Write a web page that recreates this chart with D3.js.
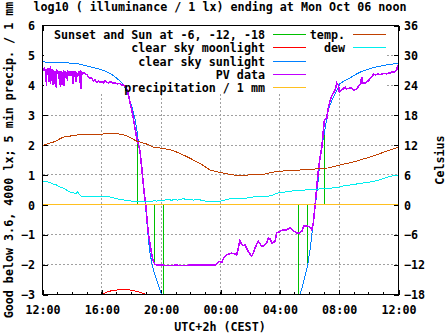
<!DOCTYPE html>
<html><head><meta charset="utf-8">
<script src="https://cdn.jsdelivr.net/npm/d3@7"></script>
<style>
body{margin:0;background:#fff;}
svg text{font-family:"DejaVu Sans Mono",monospace;font-weight:bold;font-size:11.7px;fill:#000;}
</style></head><body>
<svg id="chart" width="447" height="335"></svg>
<script>
const title = "log10 ( illuminance / 1 lx) ending at Mon Oct 06 noon";
const xLabel = "UTC+2h (CEST)";
const yLabel = "Good below 3.6, 4000 lx; 5 min precip. / 1 mm";
const y2Label = "Celsius";
const xTickHours = [0,4,8,12,16,20,24];
const xTickLabels = ["12:00","16:00","20:00","00:00","04:00","08:00","12:00"];
const xMinorHours = d3.range(0,25,1);
const yTicks = [-3,-2,-1,0,1,2,3,4,5,6];
const y2Ticks = [-18,-12,-6,0,6,12,18,24,30,36];

// hours after 12:00, log10 lux
const sunEvents = [[6.41,2.3],[7.55,-2.0],[8.16,-3.0],[17.26,-3.0],[17.87,-2.0],[19.01,2.5]];
const moonlight = [[3.7,-3.1],[3.98,-3.0],[4.5,-2.89],[5.0,-2.85],[5.4,-2.84],[5.8,-2.84],[6.2,-2.88],[6.6,-2.93],[7.0,-3.0],[7.3,-3.1]];
const sunEvening = [[0,4.78],[1.0,4.77],[1.5,4.76],[2.5,4.71],[3.2,4.62],[3.9,4.53],[4.3,4.46],[4.65,4.37],[5.0,4.24],[5.25,4.13],[5.44,4.02],[5.6,3.86],[5.78,3.65],[5.9,3.48],[6.0,3.33],[6.12,3.1],[6.23,2.9],[6.39,2.4],[6.57,1.72],[6.68,1.3],[6.79,0.83],[6.93,0.07],[7.02,-0.5],[7.12,-1.05],[7.24,-1.6],[7.42,-2.06],[7.55,-2.3],[7.69,-2.5],[7.85,-2.75],[8.02,-3.0],[8.3,-3.5]];
const sunMorning = [[17.1,-3.5],[17.36,-3.0],[17.59,-2.61],[17.86,-2.06],[18.04,-1.5],[18.26,-0.55],[18.4,0.0],[18.55,0.65],[18.71,1.5],[18.85,2.0],[19.0,2.4],[19.27,3.17],[19.45,3.42],[19.61,3.61],[19.8,3.8],[19.95,3.94],[20.06,4.06],[20.4,4.16],[20.74,4.25],[21.1,4.36],[21.41,4.44],[21.85,4.52],[22.3,4.59],[22.75,4.64],[23.2,4.68],[23.6,4.71],[24,4.73]];
const pvData = [[0.00,4.50],[0.04,4.56],[0.10,4.50],[0.15,4.55],[0.22,4.50],[0.27,3.98],[0.29,4.52],[0.38,4.55],[0.43,4.10],[0.45,4.53],[0.52,4.58],[0.55,4.05],[0.57,4.50],[0.65,4.52],[0.72,4.00],[0.74,4.50],[0.83,4.05],[0.85,4.48],[0.94,3.90],[0.96,4.50],[1.05,4.46],[1.10,4.20],[1.12,4.47],[1.21,3.95],[1.23,4.46],[1.33,4.00],[1.35,4.45],[1.44,3.98],[1.46,4.46],[1.55,4.44],[1.60,4.25],[1.62,4.45],[1.69,4.15],[1.71,4.46],[1.80,4.44],[1.85,4.30],[1.87,4.45],[1.97,4.46],[2.07,4.05],[2.09,4.45],[2.18,4.44],[2.25,4.10],[2.27,4.45],[2.40,4.30],[2.42,4.44],[2.50,4.45],[2.58,3.87],[2.60,4.44],[2.70,4.38],[2.74,4.42],[2.85,4.40],[3.00,4.35],[3.10,4.28],[3.20,4.22],[3.30,4.25],[3.42,4.15],[3.55,4.18],[3.65,4.10],[3.75,4.14],[3.85,4.10],[4.00,4.12],[4.10,4.08],[4.20,4.15],[4.32,4.10],[4.45,4.08],[4.60,4.12],[4.75,4.06],[4.90,4.08],[5.05,4.05],[5.20,4.06],[5.33,4.02],[5.45,4.00],[5.55,3.97],[5.67,3.90],[5.78,3.70],[5.89,3.44],[6.00,3.20],[6.11,2.94],[6.22,2.60],[6.34,2.28],[6.45,2.05],[6.57,1.80],[6.68,1.30],[6.79,0.72],[6.88,0.30],[6.97,-0.06],[7.05,-0.50],[7.13,-0.94],[7.25,-1.30],[7.35,-1.61],[7.45,-1.85],[7.58,-2.00],[8.00,-2.02],[8.5,-2.03],[9.0,-2.02],[9.5,-2.03],[10.0,-2.02],[10.5,-2.02],[11.0,-2.02],[11.4,-2.01],[11.63,-2.02],[11.74,-1.97],[11.85,-1.92],[11.97,-1.89],[12.08,-1.93],[12.25,-1.75],[12.42,-1.67],[12.6,-1.64],[12.75,-1.62],[12.87,-1.63],[13.09,-1.67],[13.2,-1.45],[13.31,-1.20],[13.43,-1.33],[13.55,-1.36],[13.65,-1.33],[13.76,-1.45],[13.88,-1.56],[14.0,-1.66],[14.1,-1.72],[14.22,-1.60],[14.33,-1.44],[14.45,-1.30],[14.55,-1.22],[14.66,-1.30],[14.78,-1.39],[14.9,-1.38],[15.0,-1.33],[15.12,-1.25],[15.23,-1.11],[15.35,-1.15],[15.45,-1.28],[15.57,-1.25],[15.68,-1.22],[15.75,-1.05],[15.79,-0.94],[15.9,-0.92],[16.01,-0.89],[16.12,-0.86],[16.24,-0.83],[16.35,-0.85],[16.46,-0.83],[16.58,-0.80],[16.69,-0.78],[16.8,-0.82],[16.91,-0.87],[17.03,-0.90],[17.14,-0.94],[17.25,-0.95],[17.36,-0.92],[17.48,-0.89],[17.59,-0.72],[17.7,-0.70],[17.81,-0.71],[17.93,-0.72],[18.04,-0.76],[18.15,-0.83],[18.26,-0.61],[18.32,-0.30],[18.38,0.00],[18.49,0.61],[18.6,1.17],[18.72,1.60],[18.83,1.94],[18.92,2.40],[19.0,2.83],[19.08,2.87],[19.16,2.89],[19.25,3.20],[19.39,3.50],[19.55,3.70],[19.72,3.83],[19.84,4.08],[19.95,4.00],[20.01,3.78],[20.1,3.83],[20.2,3.85],[20.4,3.94],[20.5,3.88],[20.6,3.89],[20.75,3.92],[20.85,3.90],[20.96,3.83],[21.1,3.86],[21.2,3.89],[21.36,4.00],[21.45,4.05],[21.52,4.28],[21.58,4.10],[21.63,4.06],[21.75,4.08],[21.86,4.11],[21.97,4.15],[22.08,4.22],[22.2,4.28],[22.31,4.37],[22.45,4.35],[22.6,4.38],[22.75,4.36],[22.98,4.39],[23.1,4.40],[23.2,4.38],[23.32,4.41],[23.45,4.42],[23.55,4.44],[23.65,4.43],[23.77,4.47],[23.88,4.50],[23.93,4.63],[24.0,4.57]];
const precip = [[0,0],[24,0]];
// Celsius
const tempC = [[0,11.9],[0.83,12.7],[1.4,13.6],[2.3,14.0],[2.74,14.2],[4.0,14.2],[4.5,14.3],[5.0,14.3],[5.67,13.9],[6.34,12.8],[7.02,12.2],[7.47,11.6],[8.14,11.3],[8.82,10.9],[9.72,9.7],[10.62,8.3],[11.29,7.0],[11.97,6.5],[12.87,6.0],[13.31,5.8],[14.22,6.1],[15.12,6.2],[15.34,6.5],[16.24,6.8],[16.91,6.8],[17.36,7.0],[18.15,7.0],[18.49,7.3],[19.27,7.4],[20.06,8.0],[20.96,8.6],[21.86,9.4],[22.76,10.3],[24,11.6]];
const dewC = [[0,4.8],[0.3,4.6],[0.5,4.55],[0.7,4.2],[0.94,4.0],[1.15,3.6],[1.39,3.4],[1.6,3.0],[1.84,2.6],[2.05,2.4],[2.29,2.3],[2.36,2.6],[2.45,2.2],[2.63,1.7],[3.0,1.7],[3.5,1.7],[3.87,1.7],[4.2,1.65],[4.54,1.6],[4.9,1.3],[5.22,1.1],[5.6,0.9],[6.12,0.7],[6.5,0.75],[7.02,0.7],[7.3,0.6],[7.5,0.8],[7.7,0.75],[7.9,0.85],[8.14,0.8],[8.3,1.0],[8.5,1.1],[8.7,0.9],[8.9,1.1],[9.1,0.95],[9.27,1.1],[9.5,1.25],[9.72,1.0],[9.95,1.1],[10.2,0.95],[10.51,1.15],[10.7,0.9],[11.07,0.7],[11.5,0.75],[11.97,0.7],[12.3,0.95],[12.6,1.2],[12.87,1.3],[13.3,1.3],[13.76,1.35],[14.22,1.6],[14.7,1.65],[15.12,1.7],[15.5,1.9],[15.79,2.3],[16.1,2.5],[16.46,2.6],[16.9,2.8],[17.36,2.9],[17.8,3.0],[18.26,3.0],[18.71,3.2],[19.2,3.3],[19.61,3.4],[20.0,3.5],[20.29,3.8],[20.8,4.0],[21.41,4.3],[21.9,4.5],[22.31,4.7],[22.8,5.1],[23.21,5.5],[23.6,5.8],[24,6.0]];

const legendCol1 = [
  {label:"Sunset and Sun at -6, -12, -18", color:"#00c000"},
  {label:"clear sky moonlight", color:"#ff0000"},
  {label:"clear sky sunlight", color:"#0080ff"},
  {label:"PV data", color:"#c000ff"},
  {label:"precipitation / 1 mm", color:"#ffc020"}
];
const legendCol2 = [
  {label:"temp.", color:"#c04000"},
  {label:"dew", color:"#00eeee"}
];

const L=42.5, R=398.5, T=25.5, B=294.5;
const svg = d3.select("#chart");
const x = d3.scaleLinear([0,24],[L,R]);
const y = d3.scaleLinear([-3,6],[B,T]);
const y2 = d3.scaleLinear([-18,36],[B,T]);

svg.append("rect").attr("width",447).attr("height",335).attr("fill","#fff");

// grid
const grid = svg.append("g").attr("stroke","#a0a0a0").attr("stroke-width",1)
  .attr("stroke-dasharray","2,2").attr("shape-rendering","crispEdges");
grid.selectAll(".gx").data(xTickHours.slice(1,-1)).join("line")
  .attr("x1",d=>x(d)).attr("x2",d=>x(d)).attr("y1",T).attr("y2",B);
grid.selectAll(".gy").data(yTicks.slice(1,-1)).join("line")
  .attr("class","gy").attr("x1",L).attr("x2",R).attr("y1",d=>y(d)).attr("y2",d=>y(d));

// minor x ticks
const ticks = svg.append("g").attr("stroke","#000").attr("shape-rendering","crispEdges");
ticks.selectAll(".mb").data(xMinorHours).join("line").attr("class","mb")
  .attr("x1",d=>x(d)).attr("x2",d=>x(d)).attr("y1",B).attr("y2",B-3);
ticks.selectAll(".mt").data(xMinorHours).join("line").attr("class","mt")
  .attr("x1",d=>x(d)).attr("x2",d=>x(d)).attr("y1",T).attr("y2",T+3);

// axes
const ax = svg.append("g").attr("transform",`translate(0,${B})`)
  .call(d3.axisBottom(x).tickValues(xTickHours).tickFormat((d,i)=>xTickLabels[i]).tickSize(-5).tickSizeOuter(0).tickPadding(13));
const axT = svg.append("g").attr("transform",`translate(0,${T})`)
  .call(d3.axisTop(x).tickValues(xTickHours).tickFormat("").tickSize(-5).tickSizeOuter(0));
const ayL = svg.append("g").attr("transform",`translate(${L},0)`)
  .call(d3.axisLeft(y).tickValues(yTicks).tickFormat(d3.format("d")).tickSize(-5).tickSizeOuter(0).tickPadding(7.5));
const ayR = svg.append("g").attr("transform",`translate(${R},0)`)
  .call(d3.axisRight(y2).tickValues(y2Ticks).tickFormat(d3.format("d")).tickSize(-5).tickSizeOuter(0).tickPadding(5.5));
[ax,axT,ayL,ayR].forEach(g=>{
  g.attr("font-size",null).attr("font-family",null);
  g.select(".domain").remove();
  g.selectAll("line").attr("shape-rendering","crispEdges");
});
ax.selectAll("text").attr("dy",null).attr("y",null).attr("transform","translate(0,19)");
ayL.selectAll("text").attr("dy","0.36em");
ayR.selectAll("text").attr("dy","0.36em");

// legend background (opaque key)
svg.append("rect").attr("x",44).attr("y",26).attr("width",343).attr("height",66).attr("fill","#fff");

// clip
svg.append("clipPath").attr("id","clip").append("rect")
  .attr("x",L).attr("y",T).attr("width",R-L).attr("height",B-T);
const plot = svg.append("g").attr("clip-path","url(#clip)").attr("fill","none")
  .attr("shape-rendering","crispEdges");

const line = d3.line().x(d=>x(d[0])).y(d=>y(d[1]));
const line2 = d3.line().x(d=>x(d[0])).y(d=>y2(d[1]));

// impulses
plot.selectAll(".imp").data(sunEvents).join("line")
  .attr("x1",d=>x(d[0])).attr("x2",d=>x(d[0])).attr("y1",y(0)).attr("y2",d=>y(d[1]))
  .attr("stroke","#00c000").attr("stroke-width",1);
plot.append("path").attr("d",line(moonlight)).attr("stroke","#ff0000").attr("stroke-width",1);
plot.append("path").attr("d",line(sunEvening)).attr("stroke","#0080ff").attr("stroke-width",1);
plot.append("path").attr("d",line(sunMorning)).attr("stroke","#0080ff").attr("stroke-width",1);
plot.append("path").attr("d",line(pvData)).attr("stroke","#c000ff").attr("stroke-width",1.6);
plot.append("path").attr("d",line(precip)).attr("stroke","#ffc020").attr("stroke-width",1);
plot.append("path").attr("d",line2(tempC)).attr("stroke","#c04000").attr("stroke-width",1);
plot.append("path").attr("d",line2(dewC)).attr("stroke","#00eeee").attr("stroke-width",1);

// border
svg.append("rect").attr("x",L).attr("y",T).attr("width",R-L).attr("height",B-T)
  .attr("fill","none").attr("stroke","#000").attr("stroke-width",1).attr("shape-rendering","crispEdges");

// legend
const rowY = i => Math.round(34 + 13.25*i);
const lg = svg.append("g");
legendCol1.forEach((e,i)=>{
  lg.append("text").attr("x",265).attr("y",rowY(i)+5).attr("text-anchor","end").text(e.label);
  lg.append("rect").attr("x",273).attr("width",33).attr("y",rowY(i)).attr("height",1)
    .attr("fill",e.color);
});
legendCol2.forEach((e,i)=>{
  lg.append("text").attr("x",345).attr("y",rowY(i)+5).attr("text-anchor","end").text(e.label);
  lg.append("rect").attr("x",353).attr("width",33).attr("y",rowY(i)).attr("height",1)
    .attr("fill",e.color);
});

// titles
svg.append("text").attr("x",220).attr("y",10.5).attr("text-anchor","middle").text(title);
svg.append("text").attr("x",220).attr("y",331).attr("text-anchor","middle").text(xLabel);
svg.append("text").attr("transform",`translate(12.5,${(T+B)/2}) rotate(-90)`).attr("text-anchor","middle").text(yLabel);
svg.append("text").attr("transform",`translate(443.5,${(T+B)/2}) rotate(-90)`).attr("text-anchor","middle").text(y2Label);
</script>
</body></html>
